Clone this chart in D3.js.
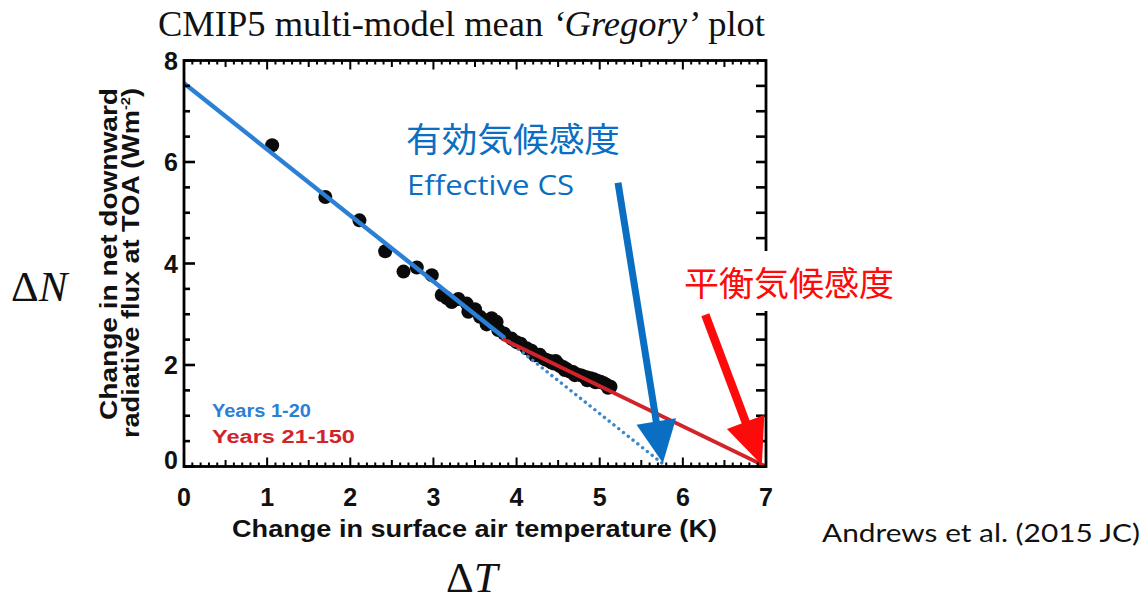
<!DOCTYPE html>
<html>
<head>
<meta charset="utf-8">
<script src="https://cdn.jsdelivr.net/npm/d3@7"></script>
<style>
  html, body { margin: 0; padding: 0; background: #fff; }
  svg { display: block; }
</style>
</head>
<body>
<svg id="chart" width="1143" height="600"></svg>
<script>
// Multi-model mean annual ΔT (K) and ΔN (W m^-2) after abrupt CO2 quadrupling
const early_T = [1.06, 1.70, 2.11, 2.42, 2.64, 2.80, 2.98, 3.10, 3.16, 3.22, 3.30, 3.40, 3.42, 3.50, 3.56, 3.64, 3.70, 3.76, 3.78, 3.85];
const early_N = [6.33, 5.31, 4.85, 4.24, 3.84, 3.92, 3.77, 3.38, 3.32, 3.24, 3.30, 3.21, 3.05, 3.10, 2.95, 2.80, 2.92, 2.85, 2.69, 2.62];

const late_T = [3.94, 4.00, 4.05, 4.12, 4.18, 4.22, 4.28, 4.33, 4.36, 4.40, 4.42, 4.45, 4.47, 4.50, 4.52, 4.56, 4.58, 4.60,
                4.64, 4.68, 4.70, 4.72, 4.77, 4.80, 4.84, 4.85, 4.89, 4.93, 4.95, 4.97, 5.01, 5.05, 5.09, 5.10, 5.13];
const late_N = [2.52, 2.45, 2.42, 2.33, 2.28, 2.19, 2.20, 2.12, 2.10, 2.08, 2.05, 2.03, 2.08, 2.02, 1.98, 1.96, 1.90, 1.92,
                1.87, 1.86, 1.80, 1.82, 1.80, 1.78, 1.76, 1.70, 1.74, 1.72, 1.66, 1.69, 1.67, 1.64, 1.60, 1.55, 1.57];

// Regression lines (end points in data units)
const fitEarly_T = [0, 3.85];
const fitEarly_N = [7.55, 2.54];
const fitEarlyExt_T = [3.85, 5.80];
const fitEarlyExt_N = [2.54, 0];
const fitLate_T = [3.82, 7.00];
const fitLate_N = [2.52, 0];

// Annotation arrows pointing at the two x-intercepts
const effArrow_T = [5.22, 5.76];
const effArrow_N = [5.59, 0.07];
const eqArrow_T = [6.27, 6.95];
const eqArrow_N = [2.99, 0.03];

const xTicks = [0, 1, 2, 3, 4, 5, 6, 7];
const yTicks = [0, 2, 4, 6, 8];
const legendLabels = ["Years 1-20", "Years 21-150"];

const BLUE = "#2b80d6";
const RED = "#d2232a";
const ARROW_BLUE = "#0a6fc2";
const ARROW_RED = "#ff0a0a";

const svg = d3.select("#chart");
const L = 184, R = 766, T = 60.5, B = 466.5;
const x = d3.scaleLinear().domain([0, 7]).range([L, R]);
const y = d3.scaleLinear().domain([0, 8]).range([B, T]);

// Title
const title = svg.append("text")
  .attr("x", 158).attr("y", 36)
  .attr("font-family", "Liberation Serif, Times New Roman, serif")
  .attr("font-size", 36.5).attr("fill", "#111");
title.append("tspan").text("CMIP5 multi-model mean ");
title.append("tspan").attr("font-style", "italic").text("\u2018Gregory\u2019");
title.append("tspan").text(" plot");

// Data points
const pts = early_T.map((t, i) => [t, early_N[i]]).concat(late_T.map((t, i) => [t, late_N[i]]));
svg.append("g").selectAll("circle").data(pts).join("circle")
  .attr("cx", d => x(d[0])).attr("cy", d => y(d[1])).attr("r", 7)
  .attr("fill", "#0a0a0a");

const line = d3.line().x(d => x(d[0])).y(d => y(d[1]));
const pairs = (a, b) => a.map((v, i) => [v, b[i]]);

// Extension of the early fit to ΔN = 0 (dotted)
svg.append("path").attr("d", line(pairs(fitEarlyExt_T, fitEarlyExt_N)))
  .attr("stroke", "#3d86c8").attr("stroke-width", 3.4).attr("fill", "none")
  .attr("stroke-dasharray", "0.1,6").attr("stroke-linecap", "round");
// Late fit
svg.append("path").attr("d", line(pairs(fitLate_T, fitLate_N)))
  .attr("stroke", RED).attr("stroke-width", 3.8).attr("fill", "none");
// Early fit
svg.append("path").attr("d", line(pairs(fitEarly_T, fitEarly_N)))
  .attr("stroke", BLUE).attr("stroke-width", 4.4).attr("fill", "none");

// Frame with inward ticks
const frame = svg.append("g").attr("stroke", "#000").attr("fill", "none");
d3.range(0, 70.5, 1).forEach(k => {
  const v = k / 10;
  const len = (k % 10 === 0) ? 9 : (k % 5 === 0 ? 6.5 : 4);
  frame.append("line").attr("x1", x(v)).attr("x2", x(v)).attr("y1", B).attr("y2", B - len).attr("stroke-width", 2);
  frame.append("line").attr("x1", x(v)).attr("x2", x(v)).attr("y1", T).attr("y2", T + len).attr("stroke-width", 2);
});
d3.range(0, 16.5, 1).forEach(k => {
  const v = k / 2;
  const len = (k % 4 === 0) ? 11 : 6;
  frame.append("line").attr("x1", L).attr("x2", L + len).attr("y1", y(v)).attr("y2", y(v)).attr("stroke-width", 2.6);
  frame.append("line").attr("x1", R).attr("x2", R - 10).attr("y1", y(v)).attr("y2", y(v)).attr("stroke-width", 2.6);
});
frame.append("rect").attr("x", L).attr("y", T).attr("width", R - L).attr("height", B - T)
  .attr("stroke-width", 2.8);

// Tick labels
svg.append("g").selectAll("text").data(xTicks).join("text")
  .attr("x", d => x(d)).attr("y", 506)
  .attr("text-anchor", "middle")
  .attr("font-family", "Liberation Sans, Arial, sans-serif").attr("font-weight", "bold")
  .attr("font-size", 25).attr("fill", "#111").text(d => d);
svg.append("g").selectAll("text").data(yTicks).join("text")
  .attr("x", 178).attr("y", d => y(d) + (d === 0 ? 2 : 9))
  .attr("text-anchor", "end")
  .attr("font-family", "Liberation Sans, Arial, sans-serif").attr("font-weight", "bold")
  .attr("font-size", 25).attr("fill", "#111").text(d => d);

// Axis titles
svg.append("text").attr("x", 232).attr("y", 537)
  .attr("font-family", "Liberation Sans, Arial, sans-serif").attr("font-weight", "bold")
  .attr("font-size", 24).attr("fill", "#111")
  .attr("textLength", 485).attr("lengthAdjust", "spacingAndGlyphs")
  .text("Change in surface air temperature (K)");

const yt = svg.append("g").attr("transform", "rotate(-90)")
  .attr("font-family", "Liberation Sans, Arial, sans-serif").attr("font-weight", "bold")
  .attr("font-size", 24).attr("fill", "#111");
yt.append("text").attr("x", -420).attr("y", 117)
  .attr("textLength", 332).attr("lengthAdjust", "spacingAndGlyphs")
  .text("Change in net downward");
const yt2 = yt.append("text").attr("x", -438).attr("y", 139)
  .attr("textLength", 350).attr("lengthAdjust", "spacingAndGlyphs");
yt2.append("tspan").text("radiative flux at TOA (Wm");
yt2.append("tspan").attr("font-size", 13).attr("dy", -9).text("-2");
yt2.append("tspan").attr("dy", 9).text(")");

// Legend
const legend = svg.append("g")
  .attr("font-family", "Liberation Sans, Arial, sans-serif").attr("font-weight", "bold")
  .attr("font-size", 18);
legend.append("text").attr("x", 212).attr("y", 417).attr("fill", BLUE)
  .attr("textLength", 99).attr("lengthAdjust", "spacingAndGlyphs").text(legendLabels[0]);
legend.append("text").attr("x", 212).attr("y", 443).attr("fill", RED)
  .attr("textLength", 143).attr("lengthAdjust", "spacingAndGlyphs").text(legendLabels[1]);

// Arrow helper: thick shaft with triangular head
function arrow(ts, ns, color, shaftW, headW, headL) {
  const x1 = x(ts[0]), y1 = y(ns[0]), x2 = x(ts[1]), y2 = y(ns[1]);
  const dx = x2 - x1, dy = y2 - y1, len = Math.hypot(dx, dy);
  const ux = dx / len, uy = dy / len, px = -uy, py = ux;
  const bx = x2 - ux * headL, by = y2 - uy * headL;
  svg.append("line").attr("x1", x1).attr("y1", y1).attr("x2", bx + ux * 2).attr("y2", by + uy * 2)
    .attr("stroke", color).attr("stroke-width", shaftW);
  svg.append("polygon")
    .attr("points", [[x2, y2], [bx + px * headW / 2, by + py * headW / 2], [bx - px * headW / 2, by - py * headW / 2]].join(" "))
    .attr("fill", color);
}
arrow(effArrow_T, effArrow_N, ARROW_BLUE, 7, 40, 42);
arrow(eqArrow_T, eqArrow_N, ARROW_RED, 8.5, 40, 46);

// Annotation labels
const jp = "Noto Sans CJK JP, sans-serif";
svg.append("text").attr("x", 406).attr("y", 152)
  .attr("font-family", jp).attr("font-size", 34).attr("fill", ARROW_BLUE)
  .attr("textLength", 214).attr("lengthAdjust", "spacingAndGlyphs").text("有効気候感度");
svg.append("text").attr("x", 407).attr("y", 195)
  .attr("font-family", "Open Sans, sans-serif").attr("font-size", 28).attr("fill", ARROW_BLUE)
  .attr("textLength", 167).attr("lengthAdjust", "spacingAndGlyphs").text("Effective CS");

svg.append("rect").attr("x", 676).attr("y", 251).attr("width", 226).attr("height", 60).attr("fill", "#fff");
svg.append("text").attr("x", 684).attr("y", 296)
  .attr("font-family", jp).attr("font-size", 34).attr("fill", ARROW_RED)
  .attr("textLength", 210).attr("lengthAdjust", "spacingAndGlyphs").text("平衡気候感度");

// ΔN and ΔT symbols
const sym = svg.append("g").attr("font-family", "Liberation Serif, Times New Roman, serif")
  .attr("font-size", 43).attr("fill", "#111");
const dn = sym.append("text").attr("x", 11).attr("y", 301);
dn.append("tspan").text("\u0394");
dn.append("tspan").attr("font-style", "italic").text("N");
const dt = sym.append("text").attr("x", 446).attr("y", 592);
dt.append("tspan").text("\u0394");
dt.append("tspan").attr("font-style", "italic").text("T");

// Source
svg.append("text").attr("x", 822).attr("y", 542)
  .attr("font-family", "Lato, Open Sans, sans-serif").attr("font-size", 25).attr("fill", "#111")
  .attr("textLength", 318).attr("lengthAdjust", "spacingAndGlyphs")
  .text("Andrews et al. (2015 JC)");
</script>
</body>
</html>
